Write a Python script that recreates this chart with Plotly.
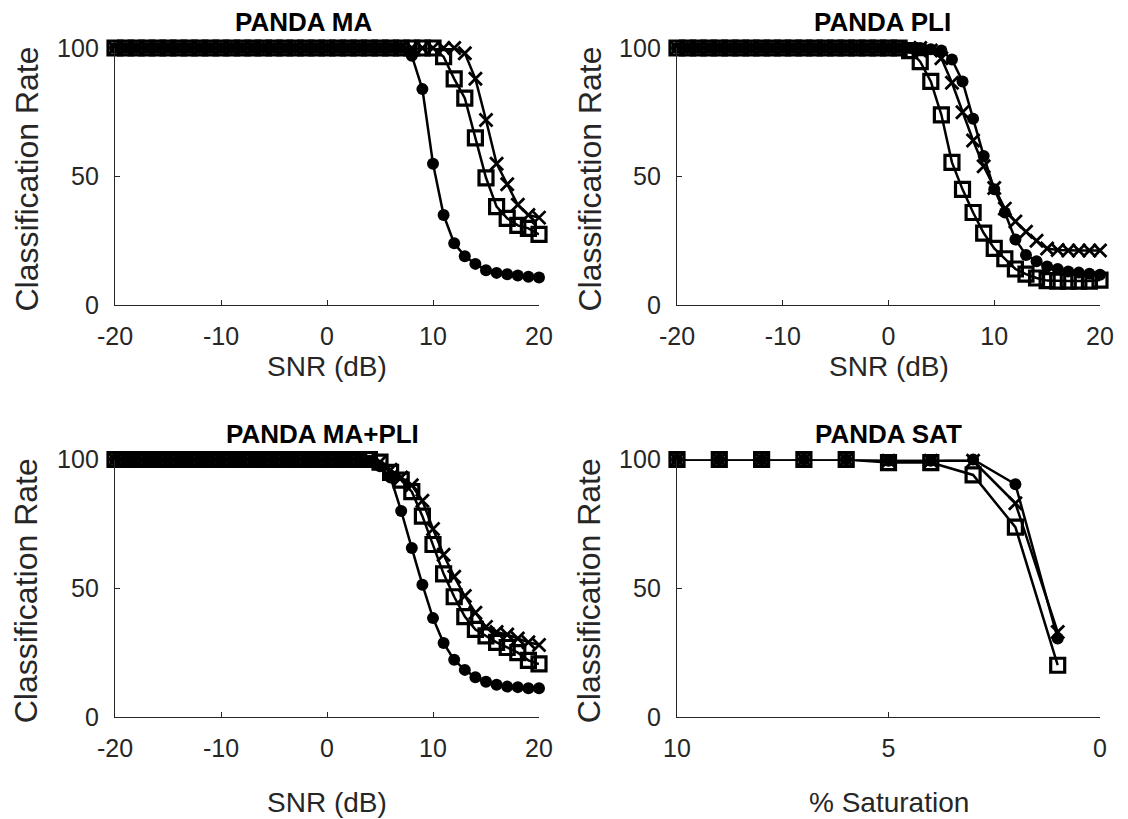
import plotly.graph_objects as go

W, H = 1128, 819

# ---------------- data ----------------
snr_db = [-20, -19, -18, -17, -16, -15, -14, -13, -12, -11, -10, -9, -8, -7, -6, -5, -4, -3, -2, -1,
          0, 1, 2, 3, 4, 5, 6, 7, 8, 9, 10, 11, 12, 13, 14, 15, 16, 17, 18, 19, 20]

ma_circle = [100] * 28 + [97, 84, 55, 35, 24, 19, 16, 13.5, 12.5, 12, 11.5, 11, 10.7]
ma_cross = [100] * 33 + [98, 88, 72, 55, 47, 39, 35, 34]
ma_square = [100] * 31 + [96.6, 88, 80.5, 65, 49.5, 38.3, 33.7, 31, 29.8, 27.5]

pli_circle = [100] * 24 + [99.5, 99, 95.5, 87, 72.5, 58, 45, 36, 25.5, 19.5, 17, 15, 14, 13, 12.6, 12.2, 11.8]
pli_cross = [100] * 24 + [99, 96, 86.5, 75, 64, 54, 45.5, 37.5, 32.5, 28.5, 25, 22, 21.4, 21.2, 21.2, 21.2, 21.2]
pli_square = [100] * 22 + [99, 94.7, 87, 74, 55.5, 45, 36, 28, 22, 18, 14, 12, 10.5, 9.5, 9.3, 9.3, 9.3, 9.3, 9.7]

mapli_circle = [100] * 24 + [99.5, 97.4, 93, 80, 65.6, 51.4, 38.4, 28.7, 22.2, 18.3, 15.4, 13.7, 12.5, 11.8, 11.6, 11.2, 11.2]
mapli_cross = [100] * 25 + [99, 96, 93, 90, 84, 73, 63, 54.5, 47, 40.5, 35, 33, 32, 30.5, 29, 28]
mapli_square = [100] * 25 + [99, 95, 92, 87.5, 78, 67, 55.6, 46.7, 39, 34, 31.5, 29, 27, 25, 22, 20.6]

sat_pct = [10, 9, 8, 7, 6, 5, 4, 3, 2, 1]
sat_circle = [100, 100, 100, 100, 100, 99.5, 99.5, 100, 90.4, 30.5]
sat_cross = [100, 100, 100, 100, 100, 99.5, 99.5, 99.5, 83, 33]
sat_square = [100, 100, 100, 100, 100, 98.8, 98.8, 94, 73.7, 20.1]

snr_ticks = [-20, -10, 0, 10, 20]
snr_ticktext = ["-20", "-10", "0", "10", "20"]
sat_ticks = [10, 5, 0]
sat_ticktext = ["10", "5", "0"]
rate_ticks = [0, 50, 100]

titles = ["PANDA MA", "PANDA PLI", "PANDA MA+PLI", "PANDA SAT"]
xlabels = ["SNR (dB)", "SNR (dB)", "SNR (dB)", "% Saturation"]
ylabel = "Classification Rate"

# ---------------- layout geometry (pixels) ----------------
col_px = [(115, 539), (677, 1100)]
row_px = [(48, 305), (459.5, 717)]

FONT = "Liberation Sans, Arial, Helvetica, sans-serif"
AX = "#262626"

fig = go.Figure()

panels = [
    (snr_db, ma_circle, ma_cross, ma_square),
    (snr_db, pli_circle, pli_cross, pli_square),
    (snr_db, mapli_circle, mapli_cross, mapli_square),
    (sat_pct, sat_circle, sat_cross, sat_square),
]

for i, (xs, yc, yx, ys) in enumerate(panels):
    n = i + 1
    xa = "x" if n == 1 else f"x{n}"
    ya = "y" if n == 1 else f"y{n}"
    common = dict(xaxis=xa, yaxis=ya, mode="lines+markers", showlegend=False,
                  cliponaxis=False, line=dict(color="black", width=2.5))
    fig.add_trace(go.Scatter(x=xs, y=yc, marker=dict(symbol="circle", size=12, color="black",
                                                    line=dict(width=0)), **common))
    fig.add_trace(go.Scatter(x=xs, y=yx, marker=dict(symbol="x-thin", size=13, color="black",
                                                    line=dict(width=2.8, color="black")), **common))
    fig.add_trace(go.Scatter(x=xs, y=ys, marker=dict(symbol="square-open", size=14, color="black",
                                                    line=dict(width=3.2, color="black")), **common))

layout = dict(width=W, height=H, margin=dict(l=0, r=0, t=0, b=0, pad=0, autoexpand=False),
              paper_bgcolor="white", plot_bgcolor="white",
              font=dict(family=FONT, color=AX))

for i in range(4):
    n = i + 1
    r, c = divmod(i, 2)
    x0, x1 = col_px[c]
    y0, y1 = row_px[r]
    xkey = "xaxis" if n == 1 else f"xaxis{n}"
    ykey = "yaxis" if n == 1 else f"yaxis{n}"
    xanchor = "y" if n == 1 else f"y{n}"
    yanchor = "x" if n == 1 else f"x{n}"
    if n == 4:
        xr, xt, xtt = [10, 0], sat_ticks, sat_ticktext
    else:
        xr, xt, xtt = [-20, 20], snr_ticks, snr_ticktext
    axcommon = dict(showline=True, linecolor=AX, linewidth=1.4, ticks="inside", ticklen=5,
                    tickwidth=1.4, tickcolor=AX, showgrid=False, zeroline=False, mirror=False,
                    automargin=False, tickfont=dict(family=FONT, size=25, color=AX), fixedrange=True)
    layout[xkey] = dict(domain=[x0 / W, x1 / W], range=xr, tickvals=xt, ticktext=xtt,
                        anchor=xanchor, ticklabelstandoff=9, **axcommon)
    layout[ykey] = dict(domain=[1 - y1 / H, 1 - y0 / H], range=[0, 100], tickvals=rate_ticks,
                        anchor=yanchor, ticklabelstandoff=10, **axcommon)

fig.update_layout(**layout)

title_pos = [(303, 22), (882, 22), (322, 434), (888, 434)]
xlabel_y = [366, 366, 802, 802]
for i in range(4):
    r, c = divmod(i, 2)
    tx, ty = title_pos[i]
    fig.add_annotation(text=f"<b>{titles[i]}</b>", x=tx / W, y=1 - ty / H, xref="paper", yref="paper",
                       showarrow=False, xanchor="center", yanchor="middle",
                       font=dict(family=FONT, size=26, color="black"))
    x0, x1 = col_px[c]
    fig.add_annotation(text=xlabels[i], x=(x0 + x1) / 2 / W, y=1 - xlabel_y[i] / H, xref="paper",
                       yref="paper", showarrow=False, xanchor="center", yanchor="middle",
                       font=dict(family=FONT, size=28, color=AX))
    y0, y1 = row_px[r]
    fig.add_annotation(text=ylabel, x=(26 if c == 0 else 589) / W, y=1 - ((y0 + y1) / 2 + 3) / H,
                       xref="paper", yref="paper", showarrow=False, textangle=-90,
                       xanchor="center", yanchor="middle",
                       font=dict(family=FONT, size=32, color=AX))

fig.write_html("out.html")
